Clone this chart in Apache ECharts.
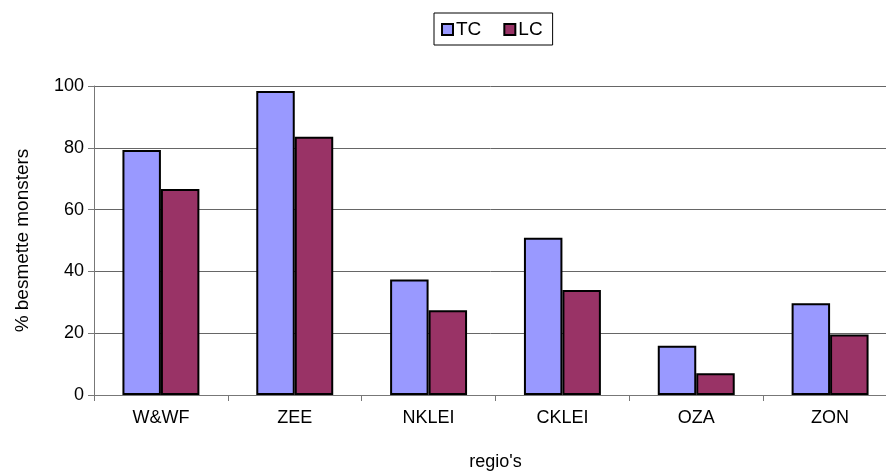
<!DOCTYPE html>
<html>
<head>
<meta charset="utf-8">
<script src="https://cdn.jsdelivr.net/npm/echarts@6/dist/echarts.min.js"></script>
<style>
  html, body { margin: 0; padding: 0; background: #fff; }
  #chart { width: 886px; height: 472px; }
</style>
</head>
<body>
<div id="chart"></div>
<script>
// Regions and infection percentages per test type
const regions = ['W&WF', 'ZEE', 'NKLEI', 'CKLEI', 'OZA', 'ZON'];
const tcValues = [79.3, 98.4, 37.4, 50.9, 15.9, 29.7];
const lcValues = [66.7, 83.6, 27.4, 34.0, 7.0, 19.6];
const yTicks = [0, 20, 40, 60, 80, 100];

const font = 'Liberation Sans, Arial, sans-serif';
const chart = echarts.init(document.getElementById('chart'), null, { renderer: 'canvas' });

chart.setOption({
  animation: false,
  backgroundColor: '#ffffff',
  textStyle: { fontFamily: font, color: '#000' },
  legend: {
    left: 434,
    top: 13,
    padding: [7, 10, 6, 7],
    borderColor: '#000',
    borderWidth: 1,
    itemWidth: 11,
    itemHeight: 11,
    itemGap: 22,
    icon: 'rect',
    textStyle: { fontFamily: font, fontSize: 19, color: '#000', padding: [0, 0, 0, -2] },
    data: ['TC', 'LC']
  },
  grid: { left: 94, top: 86, width: 803, height: 309, outerBoundsMode: 'none', containLabel: false },
  xAxis: {
    type: 'category',
    data: regions,
    name: "regio's",
    nameLocation: 'middle',
    nameGap: 58,
    nameTextStyle: { fontFamily: font, fontSize: 18, color: '#000' },
    axisLine: { lineStyle: { color: '#777', width: 1 } },
    axisTick: { show: true, length: 6, lineStyle: { color: '#777' } },
    axisLabel: { fontFamily: font, fontSize: 18, color: '#000', margin: 14 }
  },
  yAxis: {
    type: 'value',
    min: yTicks[0],
    max: yTicks[yTicks.length - 1],
    interval: 20,
    name: '% besmette monsters',
    nameLocation: 'middle',
    nameGap: 62,
    nameTextStyle: { fontFamily: font, fontSize: 19, color: '#000' },
    axisLine: { show: true, lineStyle: { color: '#777', width: 1 } },
    axisTick: { show: true, length: 6, lineStyle: { color: '#777' } },
    axisLabel: { fontFamily: font, fontSize: 18, color: '#000', margin: 10 },
    splitLine: { show: true, lineStyle: { color: '#666', width: 1 } }
  },
  series: [
    {
      name: 'TC',
      type: 'bar',
      data: tcValues,
      barGap: '0%',
      barCategoryGap: '42.5%',
      itemStyle: { color: '#9999ff', borderColor: '#000', borderWidth: 2 }
    },
    {
      name: 'LC',
      type: 'bar',
      data: lcValues,
      barGap: '0%',
      barCategoryGap: '42.5%',
      itemStyle: { color: '#993366', borderColor: '#000', borderWidth: 2 }
    }
  ]
});
</script>
</body>
</html>
